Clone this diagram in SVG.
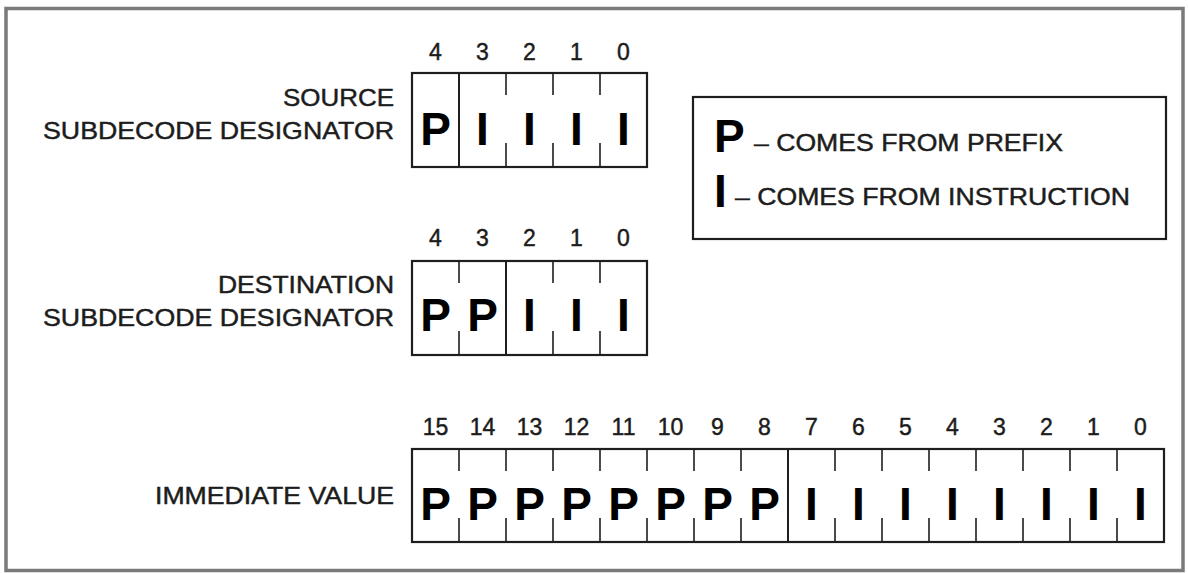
<svg xmlns="http://www.w3.org/2000/svg" width="1188" height="573" viewBox="0 0 1188 573">
<style>
.lbl{font-family:"Liberation Sans",Arial,Helvetica,sans-serif;font-size:24px;fill:#1c1c1c;stroke:#1c1c1c;stroke-width:0.45}
.num{font-family:"Liberation Sans",Arial,Helvetica,sans-serif;font-size:23px;fill:#1c1c1c;stroke:#1c1c1c;stroke-width:0.45;text-anchor:middle}
.big{font-family:"Liberation Sans",Arial,Helvetica,sans-serif;font-size:46px;font-weight:bold;fill:#000;text-anchor:middle}
.bigL{font-family:"Liberation Sans",Arial,Helvetica,sans-serif;font-size:46px;font-weight:bold;fill:#000}
.box{fill:#fff;stroke:#1e1e1e;stroke-width:2.2}
.div{stroke:#1e1e1e;stroke-width:2}
.tick{stroke:#1e1e1e;stroke-width:1.6}
</style>
<rect x="6" y="8.5" width="1177" height="562" fill="#fff" stroke="#7a7a7a" stroke-width="3.5"/>

<g id="source">
  <text class="lbl" x="283" y="106" textLength="111" lengthAdjust="spacingAndGlyphs">SOURCE</text>
  <text class="lbl" x="43" y="139" textLength="351" lengthAdjust="spacingAndGlyphs">SUBDECODE DESIGNATOR</text>
  <g>
    <text class="num" x="435.5" y="60">4</text>
    <text class="num" x="482.5" y="60">3</text>
    <text class="num" x="529.5" y="60">2</text>
    <text class="num" x="576.5" y="60">1</text>
    <text class="num" x="623.5" y="60">0</text>
  </g>
  <rect class="box" x="412" y="73" width="235" height="94"/>
  <line class="div" x1="459" y1="73" x2="459" y2="167"/>
  <path class="tick" d="M506 73V95M553 73V95M600 73V95M506 143V167M553 143V167M600 143V167"/>
  <text class="big" x="435.5" y="145">P</text>
  <text class="big" x="482.5" y="145">I</text>
  <text class="big" x="529.5" y="145">I</text>
  <text class="big" x="576.5" y="145">I</text>
  <text class="big" x="623.5" y="145">I</text>
</g>

<g id="legend">
  <rect class="box" x="693" y="97" width="473" height="142"/>
  <text class="bigL" x="714" y="152">P</text>
  <text class="lbl" x="754" y="151" textLength="309" lengthAdjust="spacingAndGlyphs">– COMES FROM PREFIX</text>
  <text class="bigL" x="714" y="207">I</text>
  <text class="lbl" x="735" y="205" textLength="395" lengthAdjust="spacingAndGlyphs">– COMES FROM INSTRUCTION</text>
</g>

<g id="destination">
  <text class="lbl" x="218" y="293" textLength="176" lengthAdjust="spacingAndGlyphs">DESTINATION</text>
  <text class="lbl" x="43" y="326" textLength="351" lengthAdjust="spacingAndGlyphs">SUBDECODE DESIGNATOR</text>
  <g>
    <text class="num" x="435.5" y="246">4</text>
    <text class="num" x="482.5" y="246">3</text>
    <text class="num" x="529.5" y="246">2</text>
    <text class="num" x="576.5" y="246">1</text>
    <text class="num" x="623.5" y="246">0</text>
  </g>
  <rect class="box" x="412" y="261" width="235" height="94"/>
  <line class="div" x1="506" y1="261" x2="506" y2="355"/>
  <path class="tick" d="M459 261V283M553 261V283M600 261V283M459 331V355M553 331V355M600 331V355"/>
  <text class="big" x="435.5" y="331">P</text>
  <text class="big" x="482.5" y="331">P</text>
  <text class="big" x="529.5" y="331">I</text>
  <text class="big" x="576.5" y="331">I</text>
  <text class="big" x="623.5" y="331">I</text>
</g>

<g id="immediate">
  <text class="lbl" x="155" y="504" textLength="239" lengthAdjust="spacingAndGlyphs">IMMEDIATE VALUE</text>
  <g>
    <text class="num" x="435.5" y="435">15</text>
    <text class="num" x="482.5" y="435">14</text>
    <text class="num" x="529.5" y="435">13</text>
    <text class="num" x="576.5" y="435">12</text>
    <text class="num" x="623.5" y="435">11</text>
    <text class="num" x="670.5" y="435">10</text>
    <text class="num" x="717.5" y="435">9</text>
    <text class="num" x="764.5" y="435">8</text>
    <text class="num" x="811.5" y="435">7</text>
    <text class="num" x="858.5" y="435">6</text>
    <text class="num" x="905.5" y="435">5</text>
    <text class="num" x="952.5" y="435">4</text>
    <text class="num" x="999.5" y="435">3</text>
    <text class="num" x="1046.5" y="435">2</text>
    <text class="num" x="1093.5" y="435">1</text>
    <text class="num" x="1140.5" y="435">0</text>
  </g>
  <rect class="box" x="412" y="449" width="752" height="93"/>
  <line class="div" x1="788" y1="449" x2="788" y2="542"/>
  <path class="tick" d="M459 449V471M506 449V471M553 449V471M600 449V471M647 449V471M694 449V471M741 449V471M835 449V471M882 449V471M929 449V471M976 449V471M1023 449V471M1070 449V471M1117 449V471M459 518V542M506 518V542M553 518V542M600 518V542M647 518V542M694 518V542M741 518V542M835 518V542M882 518V542M929 518V542M976 518V542M1023 518V542M1070 518V542M1117 518V542"/>
  <text class="big" x="435.5" y="520">P</text>
  <text class="big" x="482.5" y="520">P</text>
  <text class="big" x="529.5" y="520">P</text>
  <text class="big" x="576.5" y="520">P</text>
  <text class="big" x="623.5" y="520">P</text>
  <text class="big" x="670.5" y="520">P</text>
  <text class="big" x="717.5" y="520">P</text>
  <text class="big" x="764.5" y="520">P</text>
  <text class="big" x="811.5" y="520">I</text>
  <text class="big" x="858.5" y="520">I</text>
  <text class="big" x="905.5" y="520">I</text>
  <text class="big" x="952.5" y="520">I</text>
  <text class="big" x="999.5" y="520">I</text>
  <text class="big" x="1046.5" y="520">I</text>
  <text class="big" x="1093.5" y="520">I</text>
  <text class="big" x="1140.5" y="520">I</text>
</g>
</svg>
